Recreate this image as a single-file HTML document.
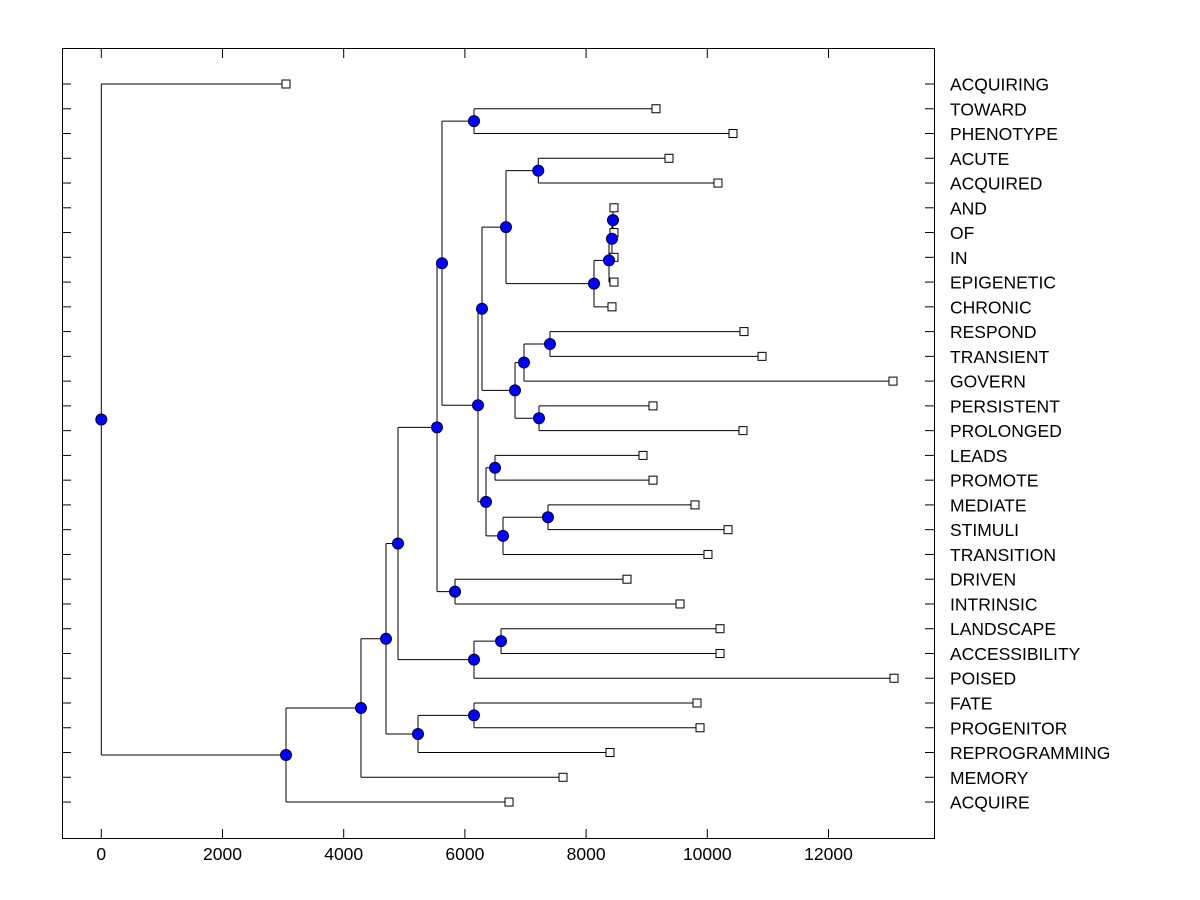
<!DOCTYPE html>
<html><head><meta charset="utf-8"><style>
html,body{margin:0;padding:0;background:#fff;}
svg{display:block;}
text{font-family:"Liberation Sans",Arial,sans-serif;font-size:17.5px;fill:#000;}
</style></head><body>
<svg id="chart" width="1200" height="900" xmlns="http://www.w3.org/2000/svg">
<rect x="0" y="0" width="1200" height="900" fill="#fff"/>
<g id="lines"></g>
<g id="marks"></g>
<rect x="62.5" y="48.5" width="872" height="790" fill="none" stroke="#000" stroke-width="1"/>
<g id="axes"></g>
</svg>
<script>
const leafLabels = ["ACQUIRING","TOWARD","PHENOTYPE","ACUTE","ACQUIRED","AND","OF","IN","EPIGENETIC","CHRONIC","RESPOND","TRANSIENT","GOVERN","PERSISTENT","PROLONGED","LEADS","PROMOTE","MEDIATE","STIMULI","TRANSITION","DRIVEN","INTRINSIC","LANDSCAPE","ACCESSIBILITY","POISED","FATE","PROGENITOR","REPROGRAMMING","MEMORY","ACQUIRE"];
const leafValues = [3048,9153,10424,9368,10176,8460,8460,8460,8460,8427,10605,10903,13064,9104,10589,8939,9104,9797,10342,10011,8675,9550,10210,10210,13081,9830,9880,8394,7619,6728];
const mergeChildren = [[5,6],[30,7],[31,8],[32,9],[3,4],[34,33],[10,11],[36,12],[13,14],[37,38],[35,39],[15,16],[17,18],[42,19],[41,43],[40,44],[1,2],[46,45],[20,21],[47,48],[22,23],[50,24],[49,51],[25,26],[53,27],[52,54],[55,28],[56,29],[0,57]];
const mergeValues = [8444,8427,8378,8130,7211,6678,7404,6975,7223,6827,6282,6497,7371,6629,6348,6216,6150,5622,5837,5540,6596,6150,4896,6150,5226,4698,4285,3048,0];
const xTicks = [0,2000,4000,6000,8000,10000,12000];

const NS="http://www.w3.org/2000/svg";
const X0=101.3, XS=0.0606;
function xs(v){return X0+v*XS;}
function ys(i){return 84+i*24.76;}
function mk(tag,attrs,parent){const e=document.createElementNS(NS,tag);for(const k in attrs)e.setAttribute(k,attrs[k]);parent.appendChild(e);return e;}
const lines=document.getElementById('lines'), marks=document.getElementById('marks'), axes=document.getElementById('axes');
const n=leafLabels.length;
const px=[], py=[];
for(let i=0;i<n;i++){px[i]=xs(leafValues[i]);py[i]=ys(i);}
mergeChildren.forEach((c,k)=>{const id=n+k;px[id]=xs(mergeValues[k]);py[id]=(py[c[0]]+py[c[1]])/2;});
mergeChildren.forEach((c,k)=>{
  const id=n+k;
  const v=mk('line',{x1:px[id],y1:py[c[0]],x2:px[id],y2:py[c[1]],stroke:'#000','stroke-width':1},lines);
  
  
  c.forEach(ch=>{
    const h=mk('line',{x1:px[id],y1:py[ch],x2:px[ch],y2:py[ch],stroke:'#000','stroke-width':1},lines);
    
    
  });
});
for(let i=0;i<n;i++){
  const b=mk('rect',{x:px[i]-4,y:py[i]-4,width:8,height:8,fill:'#fff',stroke:'#000','stroke-width':1},marks);
  
  
  const t=mk('line',{x1:62,y1:py[i],x2:71,y2:py[i],stroke:'#000'},axes);
  
  
  const t2=mk('line',{x1:925,y1:py[i],x2:934,y2:py[i],stroke:'#000'},axes);
  
  
  const l=mk('text',{x:950,y:py[i]+6.5},axes);
  l.textContent=leafLabels[i];
  
  
}
mergeChildren.forEach((c,k)=>{
  const id=n+k;
  const d=mk('circle',{cx:px[id],cy:py[id],r:5.5,fill:'#0000ff',stroke:'#000033','stroke-width':1},marks);
  
  
});
xTicks.forEach(v=>{
  const x=xs(v);
  const t=mk('line',{x1:x,y1:829,x2:x,y2:838,stroke:'#000'},axes);
  
  
  const tt=mk('line',{x1:x,y1:49,x2:x,y2:58,stroke:'#000'},axes);
  
  
  const l=mk('text',{x:x,y:860,'text-anchor':'middle'},axes);
  l.textContent=String(v);
  
  
});
</script>
</body></html>
